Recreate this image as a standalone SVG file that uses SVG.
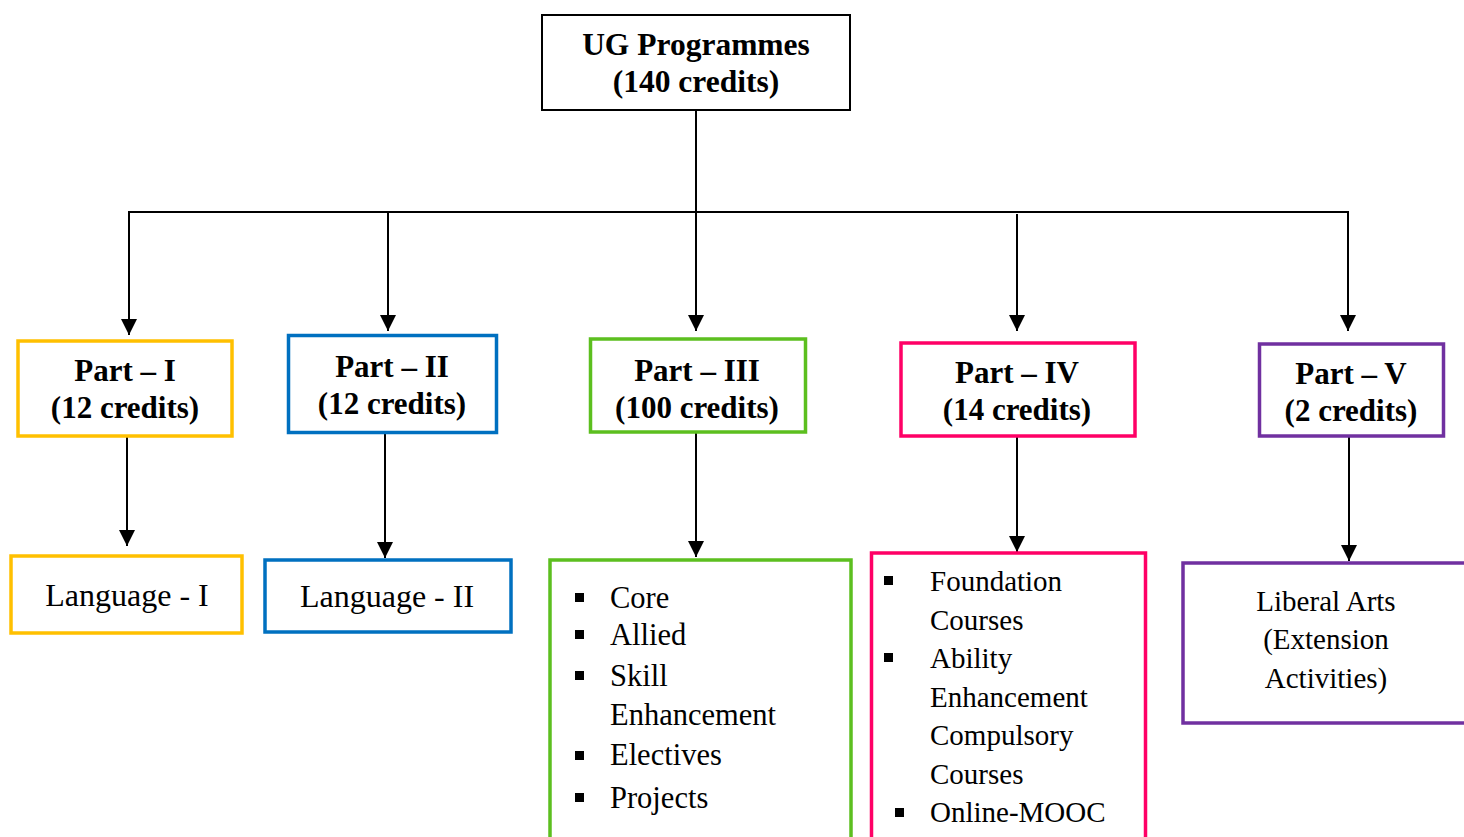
<svg xmlns="http://www.w3.org/2000/svg" width="1464" height="837" viewBox="0 0 1464 837">
<style>
.b{fill:#fff;stroke-width:3.5}
.t{font-family:"Liberation Serif","Times New Roman",serif;fill:#000;text-anchor:middle}
.h{font-weight:bold;font-size:31px}
.r{font-size:32px}
.l{font-family:"Liberation Serif","Times New Roman",serif;fill:#000;font-size:30px}
.c{stroke:#000;stroke-width:2;fill:none}
</style>
<defs>
<marker id="ah" viewBox="0 0 16 16" refX="16" refY="8" markerWidth="16" markerHeight="16" markerUnits="userSpaceOnUse" orient="auto">
<path d="M0,0 L16,8 L0,16 Z" fill="#000"/>
</marker>
</defs>
<rect width="1464" height="837" fill="#fff"/>
<g id="connectors">
<line class="c" x1="696" y1="110" x2="696" y2="212"/>
<line class="c" x1="128" y1="212" x2="1349" y2="212"/>
<line class="c" x1="129" y1="211" x2="129" y2="335" marker-end="url(#ah)"/>
<line class="c" x1="388" y1="211" x2="388" y2="331" marker-end="url(#ah)"/>
<line class="c" x1="696" y1="212" x2="696" y2="331" marker-end="url(#ah)"/>
<line class="c" x1="1017" y1="214" x2="1017" y2="331" marker-end="url(#ah)"/>
<line class="c" x1="1348" y1="211" x2="1348" y2="331" marker-end="url(#ah)"/>
<line class="c" x1="127" y1="437" x2="127" y2="546" marker-end="url(#ah)"/>
<line class="c" x1="385" y1="433" x2="385" y2="558" marker-end="url(#ah)"/>
<line class="c" x1="696" y1="433" x2="696" y2="557" marker-end="url(#ah)"/>
<line class="c" x1="1017" y1="437" x2="1017" y2="552" marker-end="url(#ah)"/>
<line class="c" x1="1349" y1="437" x2="1349" y2="561" marker-end="url(#ah)"/>
</g>
<g id="ug">
<rect x="542" y="15" width="308" height="95" fill="#fff" stroke="#000" stroke-width="2"/>
<text class="t h" x="696" y="55" style="font-size:31.5px">UG Programmes</text>
<text class="t h" x="696" y="92" style="font-size:31.5px">(140 credits)</text>
</g>
<g id="part1">
<rect class="b" x="18" y="341" width="214" height="95" stroke="#FFC000"/>
<text class="t h" x="125" y="381">Part – I</text>
<text class="t h" x="125" y="418">(12 credits)</text>
</g>
<g id="part2">
<rect class="b" x="288.5" y="335.5" width="208" height="97" stroke="#0070C0"/>
<text class="t h" x="392" y="377">Part – II</text>
<text class="t h" x="392" y="414">(12 credits)</text>
</g>
<g id="part3">
<rect class="b" x="590.5" y="339" width="215" height="93" stroke="#5CBF1F"/>
<text class="t h" x="697" y="381">Part – III</text>
<text class="t h" x="697" y="418">(100 credits)</text>
</g>
<g id="part4">
<rect class="b" x="901" y="343" width="234" height="93" stroke="#FF0066"/>
<text class="t h" x="1017" y="383">Part – IV</text>
<text class="t h" x="1017" y="420">(14 credits)</text>
</g>
<g id="part5">
<rect class="b" x="1259.5" y="344" width="184" height="92" stroke="#7030A0"/>
<text class="t h" x="1351" y="384">Part – V</text>
<text class="t h" x="1351" y="421">(2 credits)</text>
</g>
<g id="lang1">
<rect class="b" x="11" y="556" width="231" height="77" stroke="#FFC000"/>
<text class="t r" x="127" y="606">Language - I</text>
</g>
<g id="lang2">
<rect class="b" x="265" y="560" width="246" height="72" stroke="#0070C0"/>
<text class="t r" x="387" y="607">Language - II</text>
</g>
<g id="list3">
<rect class="b" x="550" y="560" width="301" height="300" stroke="#5CBF1F"/>
<rect x="575" y="593" width="9" height="9" fill="#000"/>
<rect x="575" y="630" width="9" height="9" fill="#000"/>
<rect x="575" y="671" width="9" height="9" fill="#000"/>
<rect x="575" y="751" width="9" height="9" fill="#000"/>
<rect x="575" y="793" width="9" height="9" fill="#000"/>
<text class="l" x="610" y="608" style="font-size:30.5px">Core</text>
<text class="l" x="610" y="645" style="font-size:30.5px">Allied</text>
<text class="l" x="610" y="686" style="font-size:30.5px">Skill</text>
<text class="l" x="610" y="725" style="font-size:30.5px">Enhancement</text>
<text class="l" x="610" y="765" style="font-size:30.5px">Electives</text>
<text class="l" x="610" y="808" style="font-size:30.5px">Projects</text>
</g>
<g id="list4">
<rect class="b" x="871.5" y="553" width="274" height="300" stroke="#FF0066"/>
<rect x="884" y="576" width="9" height="9" fill="#000"/>
<rect x="884" y="653" width="9" height="9" fill="#000"/>
<rect x="895" y="808" width="9" height="9" fill="#000"/>
<text class="l" x="930" y="591" style="font-size:29px">Foundation</text>
<text class="l" x="930" y="630" style="font-size:29px">Courses</text>
<text class="l" x="930" y="668" style="font-size:29px">Ability</text>
<text class="l" x="930" y="707" style="font-size:29px">Enhancement</text>
<text class="l" x="930" y="745" style="font-size:29px">Compulsory</text>
<text class="l" x="930" y="784" style="font-size:29px">Courses</text>
<text class="l" x="930" y="822" style="font-size:29px">Online-MOOC</text>
</g>
<g id="liberal">
<rect class="b" x="1183" y="563" width="300" height="160" stroke="#7030A0"/>
<text class="t" x="1326" y="611" style="font-size:29px">Liberal Arts</text>
<text class="t" x="1326" y="649" style="font-size:29px">(Extension</text>
<text class="t" x="1326" y="688" style="font-size:29px">Activities)</text>
</g>
</svg>
